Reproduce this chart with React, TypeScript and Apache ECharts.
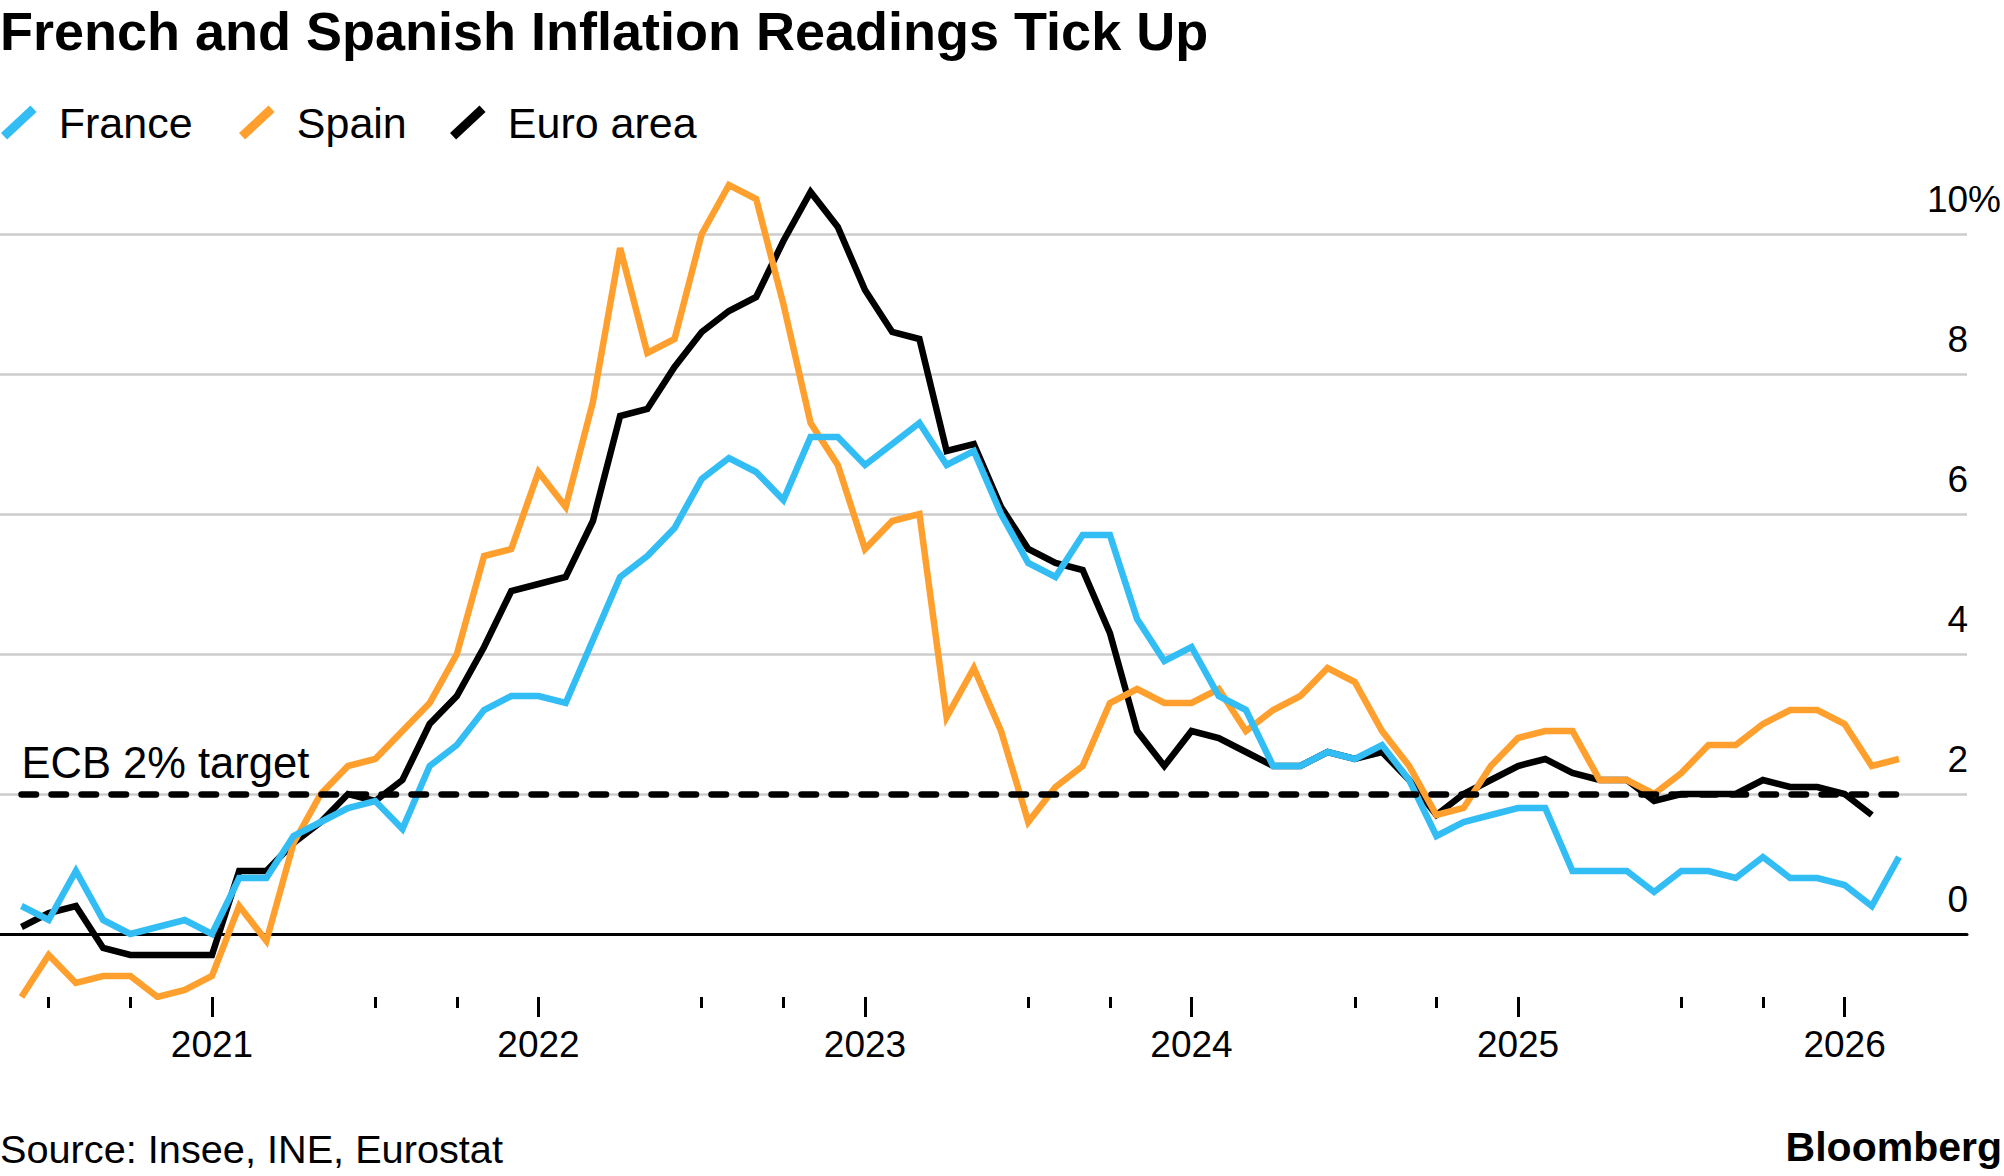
import React, { useEffect, useRef } from "react";
import * as echarts from "echarts";

// Monthly readings, May 2020 .. Feb 2026 (y/y %, harmonised)
const START_YEAR = 2020;
const START_MONTH = 5; // May
const france: number[] = [
  0.4, 0.2, 0.9, 0.2, 0.0, 0.1, 0.2, 0.0,
  0.8, 0.8, 1.4, 1.6, 1.8, 1.9, 1.5, 2.4, 2.7, 3.2, 3.4, 3.4,
  3.3, 4.2, 5.1, 5.4, 5.8, 6.5, 6.8, 6.6, 6.2, 7.1, 7.1, 6.7,
  7.0, 7.3, 6.7, 6.9, 6.0, 5.3, 5.1, 5.7, 5.7, 4.5, 3.9, 4.1,
  3.4, 3.2, 2.4, 2.4, 2.6, 2.5, 2.7, 2.2, 1.4, 1.6, 1.7, 1.8,
  1.8, 0.9, 0.9, 0.9, 0.6, 0.9, 0.9, 0.8, 1.1, 0.8, 0.8, 0.7,
  0.4, 1.1,
];
const spain: number[] = [
  -0.9, -0.3, -0.7, -0.6, -0.6, -0.9, -0.8, -0.6,
  0.4, -0.1, 1.3, 2.0, 2.4, 2.5, 2.9, 3.3, 4.0, 5.4, 5.5, 6.6,
  6.1, 7.6, 9.8, 8.3, 8.5, 10.0, 10.7, 10.5, 9.0, 7.3, 6.7, 5.5,
  5.9, 6.0, 3.1, 3.8, 2.9, 1.6, 2.1, 2.4, 3.3, 3.5, 3.3, 3.3,
  3.5, 2.9, 3.2, 3.4, 3.8, 3.6, 2.9, 2.4, 1.7, 1.8, 2.4, 2.8,
  2.9, 2.9, 2.2, 2.2, 2.0, 2.3, 2.7, 2.7, 3.0, 3.2, 3.2, 3.0,
  2.4, 2.5,
];
const euroArea: number[] = [
  0.1, 0.3, 0.4, -0.2, -0.3, -0.3, -0.3, -0.3,
  0.9, 0.9, 1.3, 1.6, 2.0, 1.9, 2.2, 3.0, 3.4, 4.1, 4.9, 5.0,
  5.1, 5.9, 7.4, 7.5, 8.1, 8.6, 8.9, 9.1, 9.9, 10.6, 10.1, 9.2,
  8.6, 8.5, 6.9, 7.0, 6.1, 5.5, 5.3, 5.2, 4.3, 2.9, 2.4, 2.9,
  2.8, 2.6, 2.4, 2.4, 2.6, 2.5, 2.6, 2.2, 1.7, 2.0, 2.2, 2.4,
  2.5, 2.3, 2.2, 2.2, 1.9, 2.0, 2.0, 2.0, 2.2, 2.1, 2.1, 2.0,
  1.7,
];
const months: string[] = france.map((_, i) => {
  const t = START_MONTH - 1 + i;
  const y = START_YEAR + Math.floor(t / 12);
  const m = (t % 12) + 1;
  return `${y}-${m < 10 ? "0" + m : m}`;
});
const yearLabels = [2021, 2022, 2023, 2024, 2025, 2026];
const yTickLabels = [0, 2, 4, 6, 8, 10];
const targetRate = 2;
const targetLabel = "ECB 2% target";

const FONT = "'Liberation Sans', Arial, Helvetica, sans-serif";
const BLUE = "#33BDF5";
const ORANGE = "#FFA02E";
const BLACK = "#000000";

// x position: months since Jan 1 2020, each reading plotted at its month end
const xOf = (label: string) => {
  const [y, m] = label.split("-").map(Number);
  return (y - START_YEAR) * 12 + m;
};
const yearTickVals = yearLabels.map((y) => (y - START_YEAR) * 12);
const quarterTickVals: number[] = [];
yearTickVals.forEach((v) => {
  [-6, -3].forEach((d) => quarterTickVals.push(v + d));
});

const X_MIN = 4.21;
const X_MAX = 76.5;
const LINE_W = 6.5;

export default function App() {
  const ref = useRef<HTMLDivElement>(null);
  useEffect(() => {
    if (!ref.current) return;
    const chart = echarts.init(ref.current, null, { renderer: "svg" });
    const toPairs = (vals: number[]) => vals.map((v, i) => [xOf(months[i]), v]);
    const xBase = { type: "value", min: X_MIN, max: X_MAX, gridIndex: 0, splitLine: { show: false } };
    const option: any = {
      animation: false,
      backgroundColor: "#ffffff",
      textStyle: { fontFamily: FONT },
      title: {
        text: "French and Spanish Inflation Readings Tick Up",
        left: 0,
        top: 4,
        padding: 0,
        textStyle: { fontSize: 54, fontWeight: "bold", color: "#000", fontFamily: FONT },
      },
      legend: [
        { name: "France", left: 1 },
        { name: "Spain", left: 239 },
        { name: "Euro area", left: 450 },
      ].map((l) => ({
        data: [l.name],
        left: l.left,
        top: 101,
        padding: 0,
        selectedMode: false,
        icon: "path://M0,28L30,0L36.2,6.6L6.2,34.6Z",
        itemWidth: 36,
        itemHeight: 34,
        textStyle: { fontSize: 43, color: "#000", fontFamily: FONT, padding: [0, 0, 0, 17] },
      })),
      grid: { left: 0, right: 37, top: 164, bottom: 179, containLabel: false },
      xAxis: [
        {
          ...xBase,
          position: "bottom",
          axisLine: { show: true, onZero: true, lineStyle: { color: BLACK, width: 3 } },
          axisTick: { show: false },
          axisLabel: { show: false },
        },
        {
          ...xBase,
          position: "bottom",
          axisLine: { show: false, onZero: false },
          axisTick: { show: true, length: 11, customValues: quarterTickVals, lineStyle: { color: BLACK, width: 3 } },
          axisLabel: { show: false },
        },
        {
          ...xBase,
          position: "bottom",
          axisLine: { show: false, onZero: false },
          axisTick: { show: true, length: 20, customValues: yearTickVals, lineStyle: { color: BLACK, width: 3 } },
          axisLabel: {
            show: true,
            customValues: yearTickVals,
            margin: 29,
            fontSize: 37,
            color: "#000",
            fontFamily: FONT,
            formatter: (v: number) => String(START_YEAR + Math.round(v / 12)),
          },
        },
      ],
      yAxis: {
        type: "value",
        min: -0.9,
        max: 11,
        splitNumber: 6,
        minInterval: 2,
        maxInterval: 2,
        position: "right",
        axisLine: { show: false },
        axisTick: { show: false },
        axisLabel: {
          show: true,
          inside: false,
          align: "right",
          verticalAlign: "bottom",
          lineHeight: 70,
          margin: 34,
          fontSize: 37,
          color: "#000",
          fontFamily: FONT,
          formatter: (v: number) => {
            if (!yTickLabels.includes(v)) return "";
            return v === 10 ? "10%" : `${v}{s| }`;
          },
          rich: { s: { width: 33, fontSize: 37, lineHeight: 70 } },
        },
        splitLine: {
          show: true,
          lineStyle: {
            width: 2.5,
            color: [
              "rgba(0,0,0,0)",
              "rgba(0,0,0,0)",
              "#cccccc",
              "#cccccc",
              "#cccccc",
              "#cccccc",
              "#cccccc",
              "rgba(0,0,0,0)",
            ],
          },
        },
      },
      series: [
        {
          name: "France",
          type: "line",
          xAxisIndex: 0,
          data: toPairs(france),
          symbol: "none",
          z: 4,
          lineStyle: { color: BLUE, width: LINE_W, join: "miter" },
          itemStyle: { color: BLUE },
          emphasis: { disabled: true },
        },
        {
          name: "Spain",
          type: "line",
          xAxisIndex: 0,
          data: toPairs(spain),
          symbol: "none",
          z: 3,
          lineStyle: { color: ORANGE, width: LINE_W, join: "miter" },
          itemStyle: { color: ORANGE },
          emphasis: { disabled: true },
        },
        {
          name: "Euro area",
          type: "line",
          xAxisIndex: 0,
          data: toPairs(euroArea),
          symbol: "none",
          z: 2,
          lineStyle: { color: BLACK, width: LINE_W, join: "miter" },
          itemStyle: { color: BLACK },
          emphasis: { disabled: true },
          markLine: {
            silent: true,
            symbol: ["none", "none"],
            lineStyle: { color: BLACK, width: 6.5, type: [14.5, 15.5], cap: "round" },
            label: {
              show: true,
              position: "insideStartTop",
              formatter: targetLabel,
              fontSize: 43.5,
              color: "#000",
              fontFamily: FONT,
              distance: [0, 9],
            },
            emphasis: { disabled: true },
            data: [
              [
                { coord: [xOf(months[0]), targetRate] },
                { coord: [xOf(months[months.length - 1]), targetRate] },
              ],
            ],
          },
        },
      ],
      graphic: [
        {
          type: "text",
          x: 0,
          y: 1149,
          style: {
            text: "Source: Insee, INE, Eurostat",
            fontSize: 39.7,
            fontFamily: FONT,
            fill: "#000",
            align: "left",
            verticalAlign: "middle",
          },
        },
        {
          type: "text",
          x: 2002,
          y: 1147,
          style: {
            text: "Bloomberg",
            fontSize: 41,
            fontWeight: "bold",
            fontFamily: FONT,
            fill: "#000",
            align: "right",
            verticalAlign: "middle",
          },
        },
      ],
    };
    chart.setOption(option);
    return () => chart.dispose();
  }, []);
  return (
    <div
      ref={ref}
      style={{ position: "absolute", left: 0, top: 0, width: 2004, height: 1176, background: "#fff" }}
    />
  );
}
